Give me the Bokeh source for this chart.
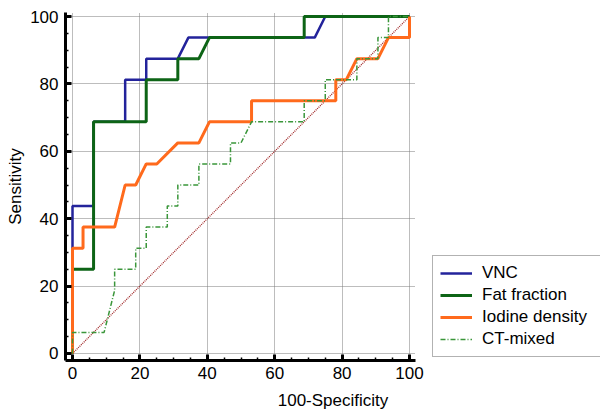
from bokeh.plotting import figure
from bokeh.models import Legend, LegendItem, SingleIntervalTicker, Range1d
from bokeh.embed import file_html
from bokeh.resources import INLINE

# ---- data ----
vnc_x = [0, 0, 6.25, 6.25, 15.625, 15.625, 21.875, 21.875, 31.25, 34.375, 71.875, 75, 100]
vnc_y = [0, 43.75, 43.75, 68.75, 68.75, 81.25, 81.25, 87.5, 87.5, 93.75, 93.75, 100, 100]

fat_x = [0, 0, 6.25, 6.25, 21.875, 21.875, 31.25, 31.25, 37.5, 40.625, 68.75, 68.75, 100]
fat_y = [0, 25, 25, 68.75, 68.75, 81.25, 81.25, 87.5, 87.5, 93.75, 93.75, 100, 100]

iod_x = [0, 0, 3.125, 3.125, 12.5, 15.625, 18.75, 21.875, 25, 31.25, 37.5, 40.625,
         53.125, 53.125, 78.125, 78.125, 81.25, 84.375, 90.625, 93.75, 100, 100]
iod_y = [0, 31.25, 31.25, 37.5, 37.5, 50, 50, 56.25, 56.25, 62.5, 62.5, 68.75,
         68.75, 75, 75, 81.25, 81.25, 87.5, 87.5, 93.75, 93.75, 100]

ct_x = [0, 0, 9.375, 12.5, 12.5, 18.75, 18.75, 21.875, 21.875, 28.125, 28.125, 31.25,
        31.25, 37.5, 37.5, 46.875, 46.875, 50, 53.125, 68.75, 68.75, 75, 75, 84.375,
        84.375, 90.625, 90.625, 93.75, 93.75, 100]
ct_y = [0, 6.25, 6.25, 18.75, 25, 25, 31.25, 31.25, 37.5, 37.5, 43.75, 43.75,
        50, 50, 56.25, 56.25, 62.5, 62.5, 68.75, 68.75, 75, 75, 81.25, 81.25,
        87.5, 87.5, 93.75, 93.75, 100, 100]

ref_x = [0, 100]
ref_y = [0, 100]

tick_values = [0, 20, 40, 60, 80, 100]
series_names = ["VNC", "Fat fraction", "Iodine density", "CT-mixed"]

FONT = "Liberation Sans"
X_LO, X_HI = -2.08, 101.8      # extent of the drawn x axis
X_FRAME_HI = 156.67            # frame extends right to leave room for the legend
Y_LO, Y_HI = -2.08, 101.19

p = figure(width=600, height=414, output_backend="svg", toolbar_location=None,
           x_range=Range1d(X_LO, X_FRAME_HI), y_range=Range1d(Y_LO, Y_HI),
           min_border_left=65, min_border_right=0, min_border_top=12, min_border_bottom=54)
p.outline_line_color = None
p.background_fill_color = "white"
p.border_fill_color = "white"

for ax in (p.xaxis[0], p.yaxis[0]):
    ax.ticker = SingleIntervalTicker(interval=20, num_minor_ticks=4)
    ax.axis_line_width = 3
    ax.axis_line_color = "black"
    ax.major_tick_line_width = 3
    ax.major_tick_line_color = "black"
    ax.major_tick_in = 6
    ax.major_tick_out = 0
    ax.minor_tick_line_width = 1.5
    ax.minor_tick_line_color = "black"
    ax.minor_tick_in = 3
    ax.minor_tick_out = 0
    ax.major_label_text_font = FONT
    ax.major_label_text_font_size = "17px"
    ax.major_label_text_color = "black"
    ax.axis_label_text_font = FONT
    ax.axis_label_text_font_size = "17px"
    ax.axis_label_text_font_style = "normal"
    ax.axis_label_text_color = "black"

p.xaxis.bounds = (X_LO, X_HI)
p.xaxis.axis_label = "100-Specificity"
p.yaxis.axis_label = "Sensitivity"
p.xaxis.major_label_standoff = 6
p.xaxis.axis_label_standoff = 9
p.yaxis.major_label_standoff = 7
p.yaxis.axis_label_standoff = 2

GRID_COLOR = "#7a7a7a"
xg = p.xgrid[0]
xg.grid_line_color = GRID_COLOR
xg.grid_line_dash = "1 1"
xg.grid_line_width = 1
xg.bounds = (X_LO, X_HI)

yg = p.ygrid[0]
if "cross_bounds" in yg.properties():
    yg.cross_bounds = (X_LO, X_HI)
    yg.grid_line_color = GRID_COLOR
    yg.grid_line_dash = "1 1"
    yg.grid_line_width = 1
else:
    yg.visible = False
    p.segment(x0=[X_LO] * len(tick_values), x1=[X_HI] * len(tick_values),
              y0=tick_values, y1=tick_values, line_color=GRID_COLOR,
              line_dash="1 1", line_width=1, level="underlay")

p.line(ref_x, ref_y, line_color="#a02828", line_width=1.3, line_dash="1 1")
r_vnc = p.line(vnc_x, vnc_y, line_color="#23239b", line_width=2.5)
r_fat = p.line(fat_x, fat_y, line_color="#0d6416", line_width=3)
r_iod = p.line(iod_x, iod_y, line_color="#ff6a1c", line_width=3)
r_ct = p.line(ct_x, ct_y, line_color="#3a963a", line_width=1.5, line_dash="5 2 1 2")

legend = Legend(items=[LegendItem(label=n, renderers=[r]) for n, r in
                       zip(series_names, [r_vnc, r_fat, r_iod, r_ct])],
                location=(367, 3))
legend.label_text_font = FONT
legend.label_text_font_size = "17px"
legend.label_text_color = "black"
legend.glyph_width = 32
legend.glyph_height = 20
legend.label_height = 20
legend.label_width = 115
legend.label_standoff = 10
legend.spacing = 2
legend.padding = 7
legend.margin = 0
legend.border_line_color = "#666666"
legend.border_line_width = 1.5
legend.background_fill_color = "white"
legend.background_fill_alpha = 1
p.add_layout(legend)

open("out.html", "w").write(file_html(p, INLINE))
